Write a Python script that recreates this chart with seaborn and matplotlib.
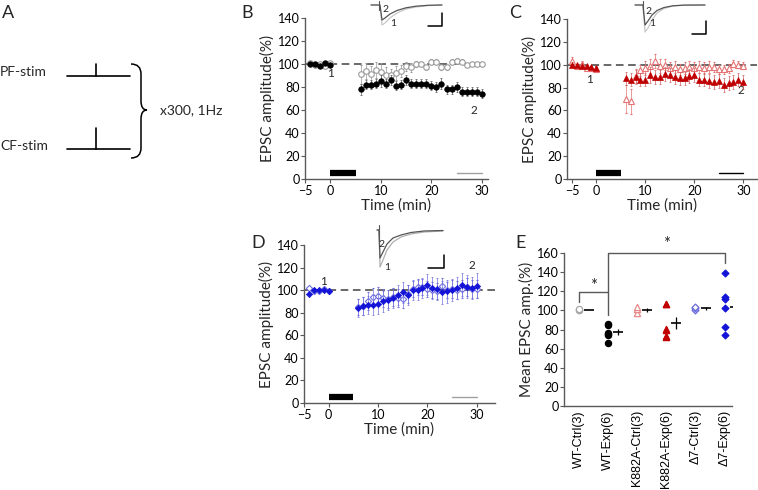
import matplotlib
matplotlib.use("Agg")
import numpy as np
import pandas as pd
import matplotlib.pyplot as plt
import seaborn as sns
from matplotlib.path import Path
from matplotlib.patches import PathPatch

# ---- time course data (B: WT, C: K882A, D: delta7) ----
b_time = [-4, -3, -2, -1, 0] + list(range(6, 31))
b_ctrl = [101, 99, 100, 98, 101,
          91, 94, 91, 95, 93, 90, 90, 92, 94, 98, 97, 100, 100, 97, 102,
          102, 97, 97, 102, 103, 102, 99, 100, 100, 100]
b_ctrl_err = [1, 1, 1, 1, 1,
              8, 7, 7, 7, 8, 7, 6, 6, 5, 4, 4, 3, 2, 2, 2,
              2, 2, 2, 2, 2, 2, 2, 2, 1, 1]
b_exp = [100, 100, 98, 101, 99,
         78, 82, 82, 83, 85, 83, 86, 81, 82, 86, 83, 83, 83, 83, 81,
         80, 83, 78, 78, 80, 76, 76, 76, 76, 74]
b_exp_err = [1, 1, 1, 1, 1,
             5, 4, 4, 4, 5, 4, 4, 4, 4, 4, 4, 4, 4, 4, 4,
             4, 5, 4, 4, 4, 4, 4, 4, 4, 4]

c_time = [-5, -4, -3, -2, -1, 0] + list(range(6, 31))
c_ctrl = [103, 99, 101, 97, 97, 96,
          70, 68, 90, 95, 97, 99, 103, 99, 100, 97, 98, 96, 97, 98,
          97, 98, 97, 98, 98, 96, 96, 97, 101, 100, 99]
c_ctrl_err = [4, 2, 2, 2, 2, 2,
              12, 11, 6, 5, 6, 6, 6, 6, 5, 5, 5, 5, 5, 5,
              5, 5, 5, 5, 4, 4, 4, 4, 3, 3, 3]
c_exp = [100, 100, 99, 99, 98, 97,
         88, 87, 89, 87, 87, 91, 89, 89, 92, 91, 89, 88, 88, 90,
         91, 87, 87, 86, 85, 86, 82, 84, 85, 87, 85]
c_exp_err = [2, 1, 1, 1, 1, 2,
             6, 6, 6, 6, 6, 7, 6, 6, 6, 6, 6, 6, 6, 6,
             6, 6, 6, 6, 6, 6, 6, 6, 6, 6, 6]

d_time = [-4, -3, -2, -1, 0] + list(range(6, 31))
d_ctrl = [102, 99, 99, 101, 99,
          85, 86, 90, 94, 95, 93, 92, 94, 93, 92, 97, 101, 103, 103, 101,
          100, 99, 104, 100, 101, 100, 101, 103, 101, 101]
d_ctrl_err = [1, 1, 1, 1, 1,
              7, 8, 8, 8, 8, 8, 8, 8, 8, 8, 8, 7, 7, 7, 7,
              7, 7, 7, 7, 8, 8, 8, 8, 8, 8]
d_exp = [97, 100, 100, 100, 99,
         84, 86, 87, 87, 88, 90, 91, 93, 96, 98, 96, 100, 100, 102, 105,
         102, 101, 98, 99, 100, 102, 105, 103, 102, 104]
d_exp_err = [1, 1, 1, 1, 1,
             8, 8, 8, 9, 9, 9, 9, 9, 9, 9, 9, 9, 9, 9, 9,
             10, 10, 10, 10, 10, 10, 10, 10, 10, 11]

# ---- panel E: individual cells ----
e_groups = ["WT-Ctrl(3)", "WT-Exp(6)", "K882A-Ctrl(3)", "K882A-Exp(6)",
            "\u03947-Ctrl(3)", "\u03947-Exp(6)"]
e_values = [
    [100, 100, 101],
    [86, 85, 76, 75, 74, 66],
    [97, 101, 104],
    [107, 107, 81, 80, 73, 72],
    [100, 102, 104],
    [139, 114, 112, 102, 83, 74],
]
e_colors = ["#a6a6a6", "black", "#e88a8a", "#c00000", "#6b6bdc", "#1414d8"]
e_markers = ["o", "o", "^", "^", "D", "D"]
e_filled = [False, True, False, True, False, True]

# ---- inset traces (pixel coords on the figure, y downward) ----
tr_b1 = [(371, 5), (379, 5), (380, 6), (382, 25), (385, 23), (390, 18),
         (397, 13), (406, 9), (416, 7), (428, 5.6), (442, 5)]
tr_b2 = [(371, 5), (380, 5), (382, 20), (385, 18), (390, 14),
         (397, 10.5), (406, 7.8), (416, 6.2), (428, 5.3), (442, 5)]
tr_c1 = [(635, 5), (643, 5), (645, 32), (648, 28), (652, 20),
         (657, 13), (664, 8.5), (673, 6), (684, 5.2), (705, 5)]
tr_c2 = [(635, 5), (643, 5), (645, 25), (648, 21), (652, 15),
         (657, 10.5), (664, 7.5), (673, 5.8), (684, 5.1), (705, 5)]
tr_d1 = [(377, 230), (379, 230), (380, 267), (383, 260), (387, 250),
         (393, 242), (401, 237), (411, 234), (424, 232), (443, 231)]
tr_d2 = [(377, 230), (379, 230), (380, 258), (383, 252), (387, 244),
         (393, 238), (401, 235), (411, 232.5), (424, 231), (443, 230.5)]

sns.set_style("ticks")
plt.rcParams["font.family"] = ["Lato", "DejaVu Sans"]
AX_COL = "#595959"

fig = plt.figure(figsize=(7.58, 4.90), dpi=100)


def style_axis(ax):
    sns.despine(ax=ax)
    for s in ("left", "bottom"):
        ax.spines[s].set_color(AX_COL)
        ax.spines[s].set_linewidth(1.0)
    ax.tick_params(colors="black", labelsize=9, length=3, width=0.8,
                   color=AX_COL, pad=1)
    ax.set_facecolor("none")


def time_panel(rect, xlim, t, ctrl, ctrl_err, exp, exp_err, mk, c_ctrl, c_exp,
               e_exp, post_col, lab1, lab2, ms):
    ax = fig.add_axes(rect)
    ax.errorbar(t, ctrl, yerr=ctrl_err, fmt=mk, mfc="white", mec=c_ctrl,
                ecolor=c_ctrl, ms=ms, mew=0.8, elinewidth=0.5, capsize=1.0,
                capthick=0.5, zorder=3)
    ax.errorbar(t, exp, yerr=exp_err, fmt=mk, mfc=c_exp, mec=c_exp,
                ecolor=e_exp, ms=ms, mew=0.5, elinewidth=0.5, capsize=1.0,
                capthick=0.5, zorder=4)
    ax.plot(xlim, [100, 100], ls=(0, (5, 3)), color="#404040", lw=1.1, zorder=2)
    ax.plot([0, 5], [5.5, 5.5], color="black", lw=4.5, solid_capstyle="butt")
    ax.plot([25, 30], [5.5, 5.5], color=post_col, lw=1.0)
    ax.text(*lab1, "1", fontsize=8.5, ha="center", va="center")
    ax.text(*lab2, "2", fontsize=8.5, ha="center", va="center")
    ax.set_xlim(*xlim)
    ax.set_ylim(0, 140)
    ax.set_xticks([-5, 0, 10, 20, 30])
    ax.set_yticks(range(0, 141, 20))
    ax.set_xlabel("Time (min)", fontsize=11, labelpad=1)
    ax.set_ylabel("EPSC amplitude(%)", fontsize=11, labelpad=2)
    style_axis(ax)
    return ax


time_panel([305 / 758, 1 - 179 / 490, 183 / 758, 161 / 490], (-5, 31.2),
           b_time, b_ctrl, b_ctrl_err, b_exp, b_exp_err, "o",
           "#9a9a9a", "black", "#555555", "#a0a0a0", (0, 92), (28.5, 60), 4.0)
time_panel([567 / 758, 1 - 179 / 490, 190 / 758, 160 / 490], (-6, 32.8),
           c_time, c_ctrl, c_ctrl_err, c_exp, c_exp_err, "^",
           "#e57373", "#c00000", "#d06060", "black", (-1.5, 87), (29.5, 77),
           4.0)
time_panel([304 / 758, 1 - 403 / 490, 191 / 758, 158 / 490], (-5, 33.7),
           d_time, d_ctrl, d_ctrl_err, d_exp, d_exp_err, "D",
           "#7070e0", "#1414d8", "#7070e0", "#a0a0a0", (-1, 108), (29, 122),
           3.2)

# ---- panel E ----
axe = fig.add_axes([564 / 758, 1 - 406 / 490, 168 / 758, 153 / 490])
rows = []
for i, (g, vals) in enumerate(zip(e_groups, e_values)):
    for v in vals:
        rows.append({"pos": i, "group": g, "value": v})
df_e = pd.DataFrame(rows)
for i, g in enumerate(e_groups):
    sub = df_e[df_e["group"] == g]
    face = e_colors[i] if e_filled[i] else "white"
    sns.scatterplot(data=sub, x="pos", y="value", ax=axe, marker=e_markers[i],
                    s=20 if e_markers[i] != "D" else 12, facecolor=face,
                    edgecolor=e_colors[i], linewidth=0.9, legend=False,
                    zorder=3, clip_on=False)
    vals = np.array(e_values[i], dtype=float)
    mean = vals.mean()
    sem = vals.std(ddof=1) / np.sqrt(len(vals))
    axe.errorbar(i + 0.35, mean, yerr=sem, fmt="_", color="black", ms=7,
                 mew=1.2, elinewidth=0.9, capsize=0, zorder=3)

# significance brackets
axe.plot([0, 0, 1, 1], [109, 119, 119, 95], color="#595959", lw=1.0,
         clip_on=False)
axe.text(0.5, 126, "*", fontsize=12, ha="center", va="center")
axe.plot([1, 1, 5, 5], [119, 160, 160, 150], color="#595959", lw=1.0,
         clip_on=False)
axe.text(3, 169, "*", fontsize=12, ha="center", va="center")

axe.set_xlim(-0.5, 5.25)
axe.set_ylim(0, 160)
axe.set_yticks(range(0, 161, 20))
axe.set_xticks(range(6))
axe.set_xticklabels(e_groups, rotation=90, fontsize=7.3,
                    family=["Liberation Sans", "DejaVu Sans"])
axe.set_xlabel("")
axe.set_ylabel("Mean EPSC amp.(%)", fontsize=11, labelpad=2)
style_axis(axe)
axe.tick_params(axis="x", length=0, pad=3)

# ---- overlay in figure pixels: panel A, inset traces, letters ----
ov = fig.add_axes([0, 0, 1, 1], zorder=10)
ov.set_xlim(0, 758)
ov.set_ylim(490, 0)
ov.axis("off")
ov.patch.set_alpha(0)

for x, y, s in [(8, 13, "A"), (247, 13, "B"), (515, 13, "C"),
                (258, 243, "D"), (521, 243, "E")]:
    ov.text(x, y, s, fontsize=13, ha="center", va="center")

ov.text(0, 72, "PF-stim", fontsize=10, ha="left", va="center")
ov.text(0, 146, "CF-stim", fontsize=10, ha="left", va="center")
for yb, yt in [(76, 64), (149, 128)]:
    ov.plot([67, 130], [yb, yb], color="black", lw=1.2)
    ov.plot([96, 96], [yt, yb], color="black", lw=1.2)
brace = Path([(131, 64), (141, 64), (141, 74), (141, 101), (141, 110),
              (147, 110), (141, 110), (141, 119), (141, 148), (141, 158),
              (131, 158)],
             [Path.MOVETO, Path.CURVE3, Path.CURVE3, Path.LINETO,
              Path.CURVE3, Path.CURVE3, Path.CURVE3, Path.CURVE3,
              Path.LINETO, Path.CURVE3, Path.CURVE3])
ov.add_patch(PathPatch(brace, fill=False, lw=1.1, color="black"))
ov.text(160, 110, "x300, 1Hz", fontsize=10, ha="left", va="center")

for tr, col in [(tr_b1, "#c8c8c8"), (tr_b2, "#555555"),
                (tr_c1, "#c8c8c8"), (tr_c2, "#555555"),
                (tr_d1, "#b0b0b0"), (tr_d2, "#555555")]:
    xs, ys = zip(*tr)
    ov.plot(xs, ys, color=col, lw=0.9)
# stimulus artifacts
ov.plot([379, 379], [1, 10], color="#555555", lw=0.8)
ov.plot([643, 643], [1, 13], color="#555555", lw=0.8)
ov.plot([379, 379], [225, 240], color="#555555", lw=0.8)
# scale bars
for (x0, x1, y0, yt) in [(428, 442, 26, 13), (692, 706, 34, 21),
                         (428, 444, 268, 255)]:
    ov.plot([x0, x1, x1], [y0, y0, yt], color="black", lw=1.1)
for x, y, s in [(385, 10, "2"), (393, 24, "1"), (648, 11, "2"),
                (652, 24, "1"), (381, 244, "2"), (387, 267, "1")]:
    ov.text(x, y, s, fontsize=7.5, ha="center", va="center")

fig.savefig("out.png", dpi=100)
